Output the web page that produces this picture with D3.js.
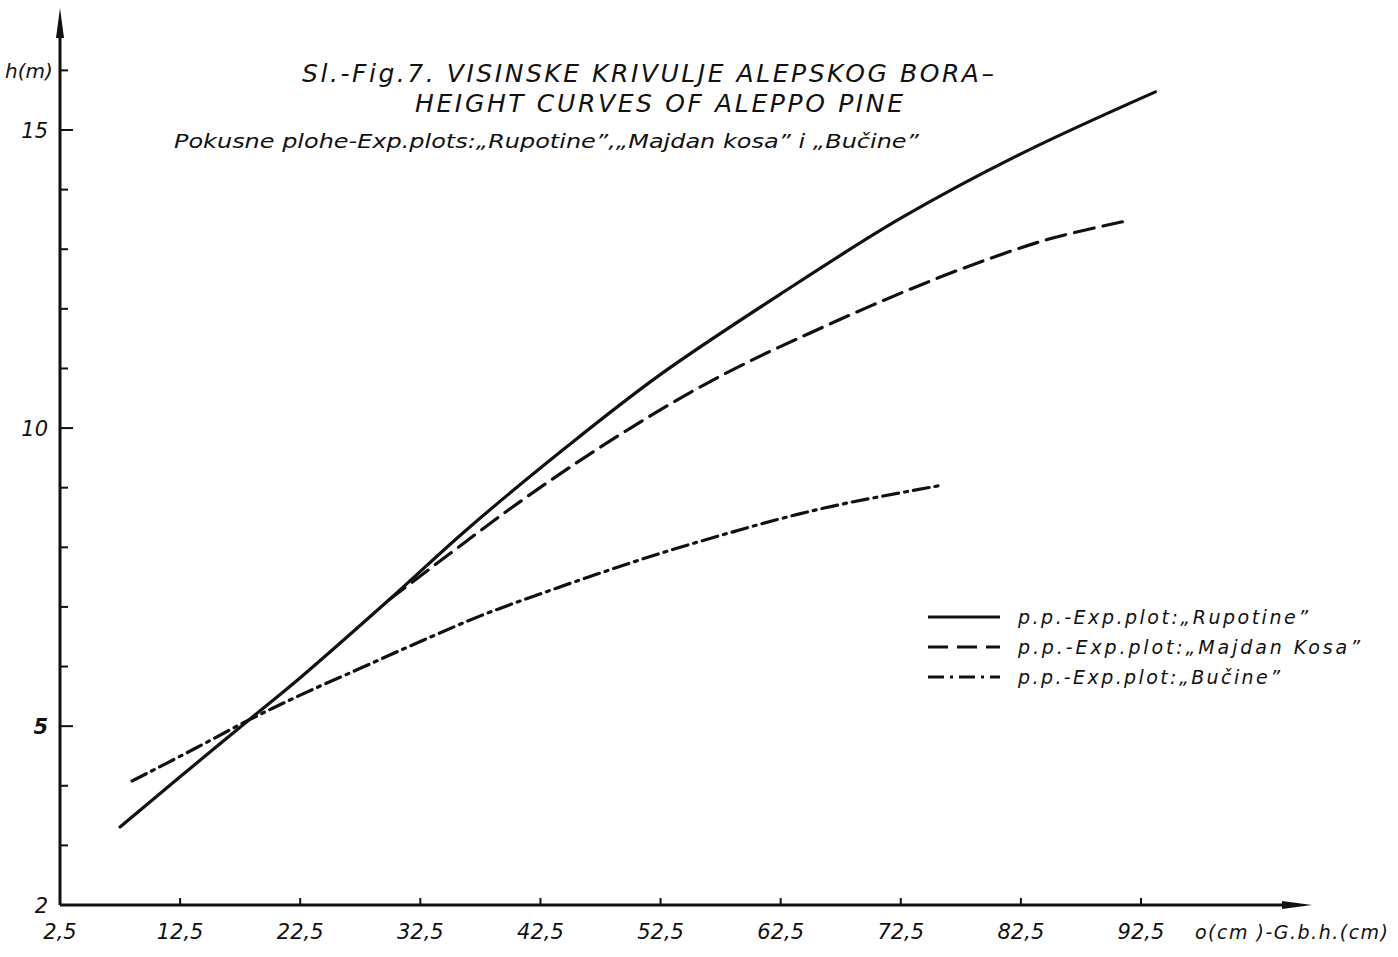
<!DOCTYPE html>
<html>
<head>
<meta charset="utf-8">
<script src="https://cdn.jsdelivr.net/npm/d3@7"></script>
<style>
  body { margin: 0; background: #fff; }
  text { font-family: "DejaVu Sans", sans-serif; font-style: italic; fill: #111; }
</style>
</head>
<body>
<div id="chart"></div>
<script>
// tick values
const xTicks = [2.5, 12.5, 22.5, 32.5, 42.5, 52.5, 62.5, 72.5, 82.5, 92.5];
const xTickLabels = ['2,5', '12,5', '22,5', '32,5', '42,5', '52,5', '62,5', '72,5', '82,5', '92,5'];
const yTicks = [3, 4, 5, 6, 7, 8, 9, 10, 11, 12, 13, 14, 15, 16];
const yLabelValues = [2, 5, 10, 15];

// p.p. "Rupotine" (solid)
const rupotineD = [7.5, 12.5, 18.2, 22.6, 29.9, 36.5, 44.9, 52.5, 62.5, 72.5, 82.5, 93.7];
const rupotineH = [3.31, 4.15, 5.1, 5.83, 7.12, 8.32, 9.72, 10.9, 12.25, 13.52, 14.6, 15.64];

// p.p. "Majdan Kosa" (dashed)
const majdanD = [29.9, 35, 40, 45, 50, 55, 60, 65, 70, 75, 80, 85, 91.4];
const majdanH = [7.12, 7.9, 8.65, 9.35, 10.0, 10.6, 11.13, 11.6, 12.05, 12.47, 12.85, 13.18, 13.48];

// p.p. "Bučine" (dash-dot)
const bucineD = [8.5, 13.5, 18.2, 22.5, 27.5, 32.5, 37.5, 42.5, 47.5, 52.5, 57.5, 62.5, 67.5, 75.6];
const bucineH = [4.08, 4.6, 5.1, 5.52, 5.97, 6.42, 6.85, 7.22, 7.57, 7.9, 8.2, 8.48, 8.72, 9.03];

const series = [
  {name: 'p.p.-Exp.plot:\u201ERupotine\u201D', d: rupotineD, h: rupotineH, dash: null},
  {name: 'p.p.-Exp.plot:\u201EMajdan Kosa\u201D', d: majdanD, h: majdanH, dash: '20,9'},
  {name: 'p.p.-Exp.plot:\u201EBu\u010Dine\u201D', d: bucineD, h: bucineH, dash: '16,6,3,6'}
];

const width = 1398, height = 957;

const svg = d3.select('#chart')
    .append('svg')
    .attr('width', width)
    .attr('height', height);

const x = d3.scaleLinear().domain([2.5, 92.5]).range([60, 1141]);
const y = d3.scaleLinear().domain([2, 15]).range([905, 130]);

const x0 = x(2.5), y0 = y(2);

// axes
svg.append('line')
    .attr('x1', x0).attr('y1', y0).attr('x2', x0).attr('y2', 30)
    .attr('stroke', '#111').attr('stroke-width', 3);
svg.append('path')
    .attr('d', `M${x0 - 4},38L${x0},8L${x0 + 4},38Z`)
    .attr('fill', '#111');

svg.append('line')
    .attr('x1', x0).attr('y1', y0).attr('x2', 1292).attr('y2', y0)
    .attr('stroke', '#111').attr('stroke-width', 3);
svg.append('path')
    .attr('d', `M1282,${y0 - 4}L1312,${y0}L1282,${y0 + 4}Z`)
    .attr('fill', '#111');

// y ticks
svg.append('g').selectAll('line')
    .data(yTicks)
  .enter().append('line')
    .attr('x1', x0)
    .attr('x2', d => x0 + (d % 5 === 0 ? 13 : 8))
    .attr('y1', d => y(d))
    .attr('y2', d => y(d))
    .attr('stroke', '#111')
    .attr('stroke-width', 2);

svg.append('g').selectAll('text')
    .data(yLabelValues)
  .enter().append('text')
    .attr('x', x0 - 12)
    .attr('y', d => y(d) + 8)
    .attr('text-anchor', 'end')
    .attr('font-size', 21)
    .attr('font-weight', d => d === 5 ? 'bold' : null)
    .text(d => d);

svg.append('text')
    .attr('x', 5).attr('y', y(16) + 8)
    .attr('font-size', 20)
    .text('h(m)');

// x ticks
svg.append('g').selectAll('line')
    .data(xTicks.slice(1))
  .enter().append('line')
    .attr('x1', d => x(d)).attr('x2', d => x(d))
    .attr('y1', y0).attr('y2', y0 - 7)
    .attr('stroke', '#111')
    .attr('stroke-width', 2);

svg.append('g').selectAll('text')
    .data(xTicks)
  .enter().append('text')
    .attr('x', d => x(d))
    .attr('y', y0 + 34)
    .attr('text-anchor', 'middle')
    .attr('font-size', 21)
    .text((d, i) => xTickLabels[i]);

svg.append('text')
    .attr('x', 1195).attr('y', y0 + 34)
    .attr('font-size', 19)
    .attr('textLength', 193)
    .text('o(cm )-G.b.h.(cm)');

// title
svg.append('text')
    .attr('x', 302).attr('y', 82)
    .attr('font-size', 25)
    .attr('textLength', 692)
    .attr('lengthAdjust', 'spacing')
    .text('Sl.-Fig.7. VISINSKE KRIVULJE ALEPSKOG BORA\u2013');
svg.append('text')
    .attr('x', 415).attr('y', 112)
    .attr('font-size', 25)
    .attr('textLength', 488)
    .attr('lengthAdjust', 'spacing')
    .text('HEIGHT CURVES OF ALEPPO PINE');
svg.append('text')
    .attr('x', 174).attr('y', 148)
    .attr('font-size', 20)
    .attr('textLength', 745)
    .attr('lengthAdjust', 'spacingAndGlyphs')
    .text('Pokusne plohe-Exp.plots:\u201ERupotine\u201D,\u201EMajdan kosa\u201D i \u201EBu\u010Dine\u201D');

// curves
const line = d3.line()
    .x(d => x(d[0]))
    .y(d => y(d[1]))
    .curve(d3.curveCatmullRom.alpha(0.5));

svg.append('g').selectAll('path')
    .data(series)
  .enter().append('path')
    .attr('d', s => line(s.d.map((v, i) => [v, s.h[i]])))
    .attr('fill', 'none')
    .attr('stroke', '#111')
    .attr('stroke-width', 3.2)
    .attr('stroke-linecap', 'round')
    .attr('stroke-dasharray', s => s.dash);

// legend
const legend = svg.append('g')
    .selectAll('g')
    .data(series)
  .enter().append('g')
    .attr('transform', (s, i) => `translate(928,${617 + i * 30})`);

legend.append('line')
    .attr('x1', 0).attr('x2', 72)
    .attr('stroke', '#111')
    .attr('stroke-width', 3)
    .attr('stroke-dasharray', s => s.dash);

legend.append('text')
    .attr('x', 90).attr('y', 7)
    .attr('font-size', 19)
    .attr('textLength', (s, i) => [290, 342, 262][i])
    .attr('lengthAdjust', 'spacing')
    .text(s => s.name);
</script>
</body>
</html>
